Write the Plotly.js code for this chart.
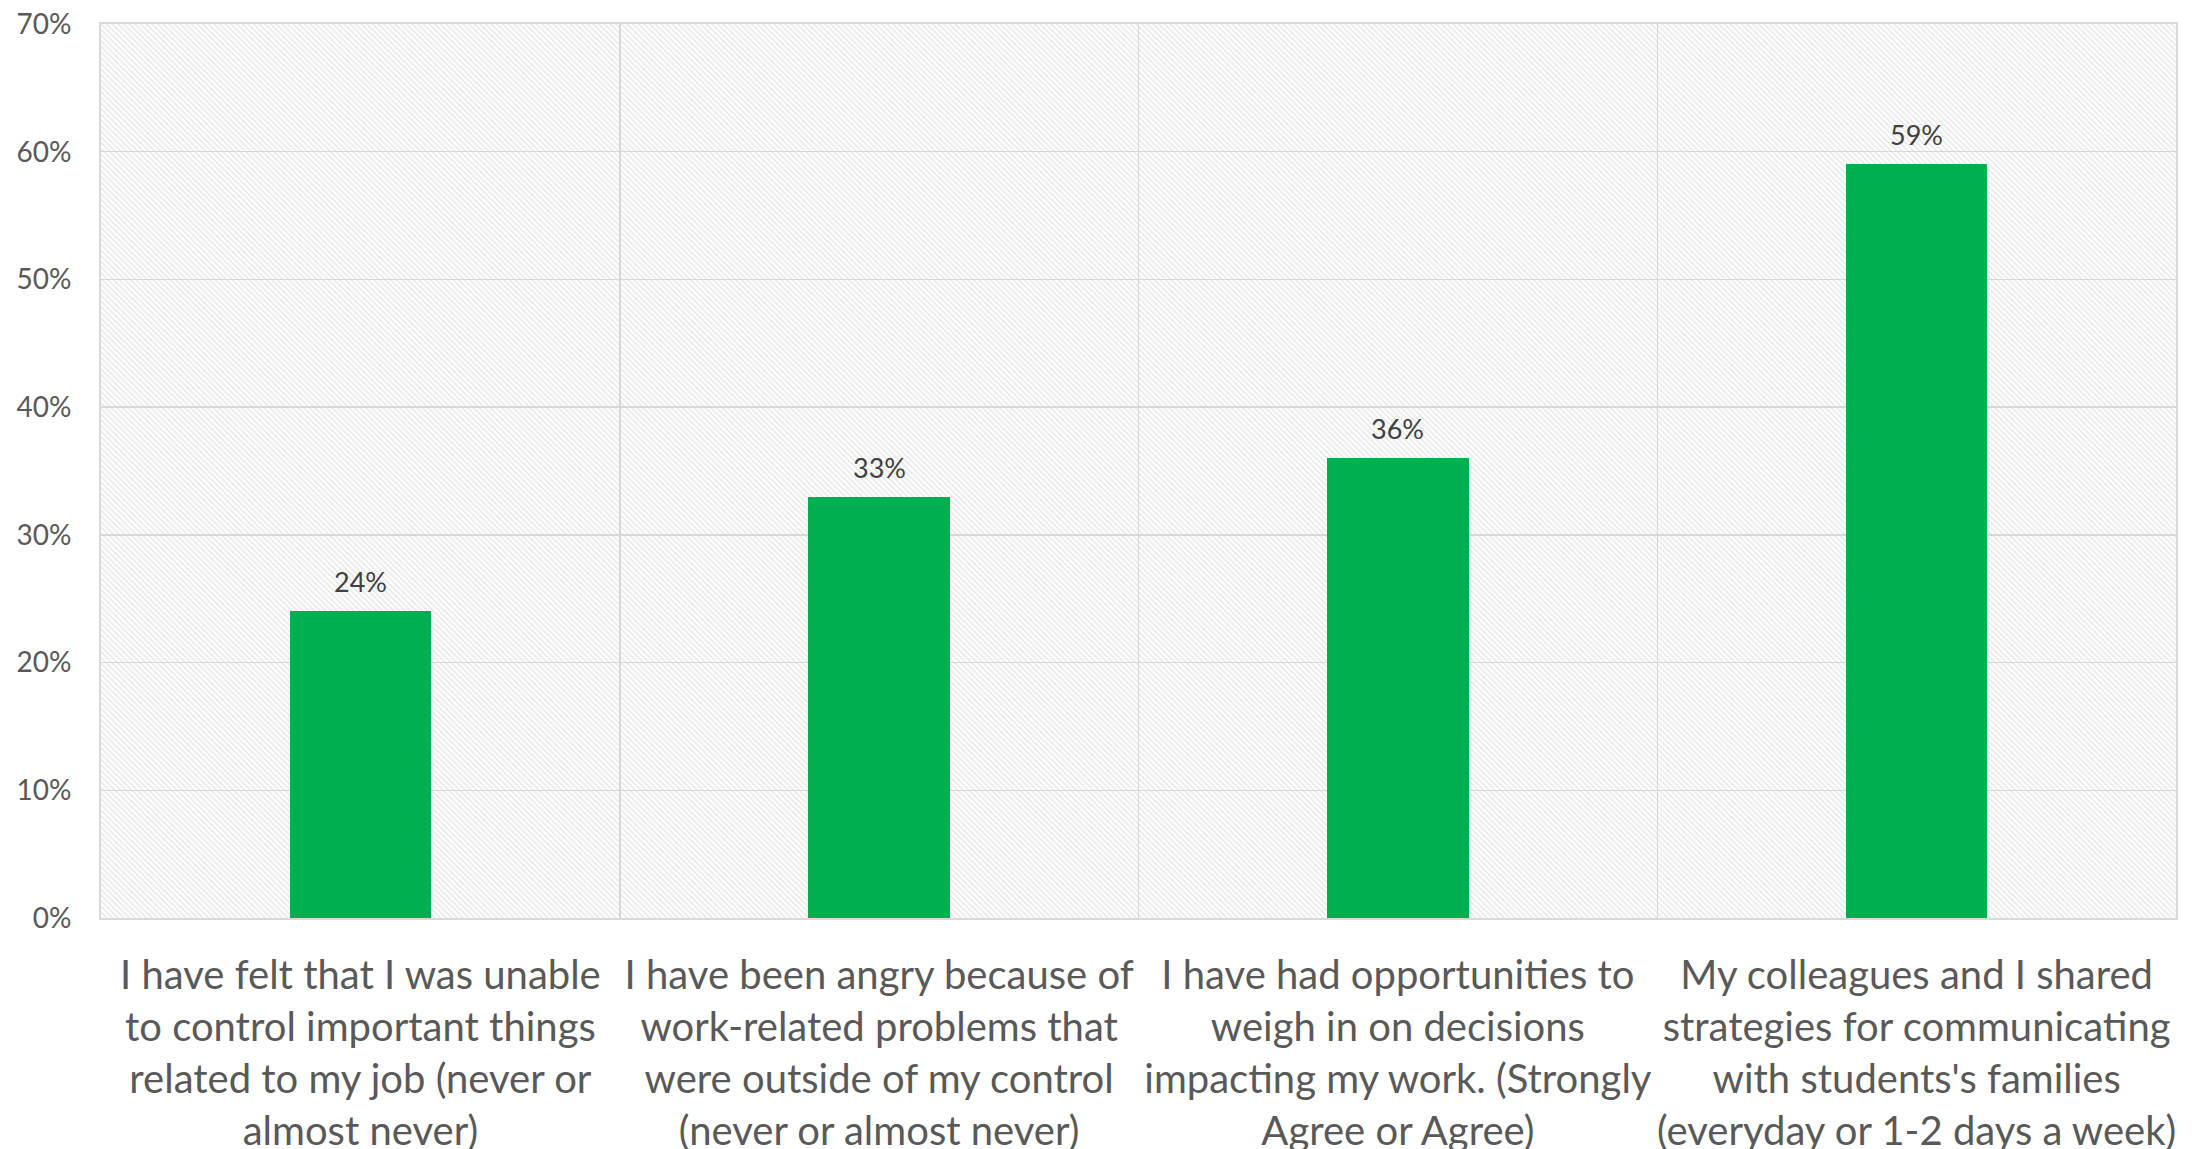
<!DOCTYPE html>
<html>
<head>
<meta charset="utf-8">
<script src="https://cdn.plot.ly/plotly-3.0.1.min.js"></script>
<style>
  html, body { margin: 0; padding: 0; background: #ffffff; }
  #chart { width: 2198px; height: 1149px; }
</style>
</head>
<body>
<div id="chart"></div>
<script>
// Survey statements (category axis) and share of respondents
const categories = [
  "I have felt that I was unable<br>to control important things<br>related to my job (never or<br>almost never)",
  "I have been angry because of<br>work-related problems that<br>were outside of my control<br>(never or almost never)",
  "I have had opportunities to<br>weigh in on decisions<br>impacting my work. (Strongly<br>Agree or Agree)",
  "My colleagues and I shared<br>strategies for communicating<br>with students's families<br>(everyday or 1-2 days a week)"
];
const shares = [0.24, 0.33, 0.36, 0.59];

// Value axis
const yRange = [0, 0.7];
const yTickStep = 0.1;

const FONT = "Lato, 'Open Sans', sans-serif";
const GRID = "#d9d9d9";

// Hatched panel behind the bars: one full-height cell per category
const panel = {
  type: "bar",
  x: categories,
  y: categories.map(() => yRange[1]),
  width: 1,
  marker: {
    color: "rgba(0,0,0,0)",
    line: { width: 0 },
    pattern: {
      shape: "\\",
      fgcolor: "#d0d0d0",
      bgcolor: "rgba(0,0,0,0)",
      size: 4,
      solidity: 0.4,
      fillmode: "overlay"
    }
  },
  hoverinfo: "skip",
  showlegend: false
};

const bars = {
  type: "bar",
  x: categories,
  y: shares,
  width: 0.273,
  marker: { color: "#00b050", line: { width: 0 } },
  hovertemplate: "%{y:.0%}<extra></extra>",
  showlegend: false
};

// Value labels above each bar
const labels = categories.map((c, i) => ({
  x: c,
  y: shares[i],
  xref: "x",
  yref: "y",
  text: Math.round(shares[i] * 100) + "%",
  showarrow: false,
  yanchor: "bottom",
  yshift: 11,
  font: { family: FONT, size: 27, color: "#404040" }
}));

const layout = {
  width: 2198,
  height: 1149,
  margin: { l: 101, r: 22, t: 24, b: 231, pad: 0 },
  paper_bgcolor: "#ffffff",
  plot_bgcolor: "#ffffff",
  barmode: "overlay",
  bargap: 0,
  font: { family: FONT, color: "#595959" },
  xaxis: {
    type: "category",
    tickson: "boundaries",
    showgrid: true,
    gridcolor: GRID,
    gridwidth: 1.5,
    showline: true,
    linecolor: GRID,
    linewidth: 2,
    mirror: true,
    ticks: "",
    ticklabelstandoff: 21,
    tickfont: { family: FONT, size: 40, color: "#595959" },
    tickangle: 0,
    zeroline: false,
    fixedrange: true
  },
  yaxis: {
    range: yRange,
    dtick: yTickStep,
    tick0: 0,
    tickformat: ".0%",
    showgrid: true,
    gridcolor: GRID,
    gridwidth: 1.5,
    showline: true,
    linecolor: GRID,
    linewidth: 2,
    mirror: true,
    ticks: "",
    ticklabelstandoff: 22,
    tickfont: { family: FONT, size: 28, color: "#595959" },
    zeroline: false,
    fixedrange: true
  },
  annotations: labels
};

Plotly.newPlot("chart", [panel, bars], layout, { displayModeBar: false, staticPlot: true });
</script>
</body>
</html>
